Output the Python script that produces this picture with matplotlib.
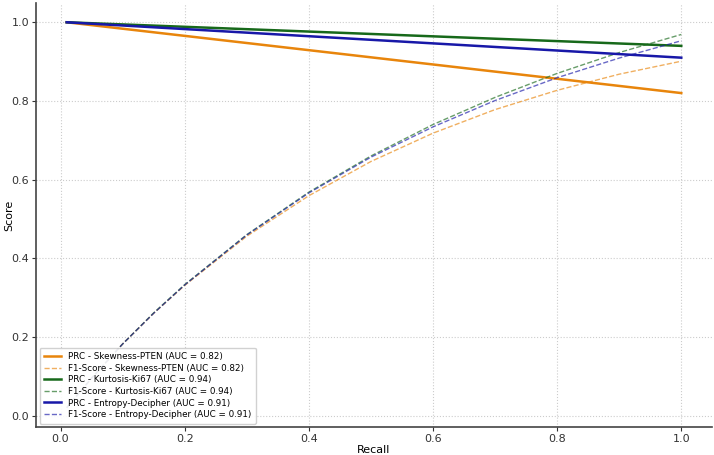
import matplotlib
matplotlib.use("Agg")
import matplotlib.pyplot as plt

# PRC lines (straight): recall endpoints and precision endpoints
prc_recall = [0.01, 1.0]
prc_skew = [1.0, 0.82]
prc_kurt = [1.0, 0.94]
prc_entr = [1.0, 0.91]

# F1-score curves
f1_recall = [0.01, 0.05, 0.1, 0.15, 0.2, 0.3, 0.4, 0.5, 0.6, 0.7, 0.8, 0.9, 1.0]
f1_skew = [0.020, 0.095, 0.182, 0.260, 0.331, 0.456, 0.559, 0.646, 0.718, 0.778, 0.827, 0.868, 0.901]
f1_kurt = [0.020, 0.095, 0.182, 0.261, 0.333, 0.460, 0.568, 0.660, 0.740, 0.809, 0.870, 0.923, 0.969]
f1_entr = [0.020, 0.095, 0.182, 0.260, 0.332, 0.459, 0.566, 0.657, 0.734, 0.801, 0.859, 0.909, 0.953]

names = ["Skewness-PTEN", "Kurtosis-Ki67", "Entropy-Decipher"]
aucs = [0.82, 0.94, 0.91]
colors = ["#e8850c", "#17691a", "#1818a8"]

fig = plt.figure(figsize=(7.14, 4.55), dpi=100)
ax = fig.add_axes([36 / 714, 28 / 455, 676 / 714, 424 / 455])

for prc, f1, name, auc, c in zip([prc_skew, prc_kurt, prc_entr],
                                 [f1_skew, f1_kurt, f1_entr], names, aucs, colors):
    ax.plot(prc_recall, prc, color=c, lw=1.8,
            label=f"PRC - {name} (AUC = {auc:.2f})")
    ax.plot(f1_recall, f1, color=c, lw=1.0, ls="--", alpha=0.65,
            label=f"F1-Score - {name} (AUC = {auc:.2f})")

ax.set_xticks([0.0, 0.2, 0.4, 0.6, 0.8, 1.0])
ax.set_yticks([0.0, 0.2, 0.4, 0.6, 0.8, 1.0])
ax.grid(True, ls=":", color="#cccccc", lw=0.8)
ax.set_axisbelow(True)
for s in ["top", "right"]:
    ax.spines[s].set_visible(False)
for s in ["left", "bottom"]:
    ax.spines[s].set_color("#444444")
    ax.spines[s].set_linewidth(1.2)
ax.tick_params(labelsize=8, colors="#333333", length=3, pad=2)
ax.set_xlabel("Recall", fontsize=8, labelpad=1)
ax.set_ylabel("Score", fontsize=8)
ax.yaxis.set_label_coords(-22 / 676, 0.5)

leg = ax.legend(loc="lower left", fontsize=6.3, frameon=True, framealpha=0.9,
                handlelength=2.0, borderpad=0.5, labelspacing=0.3,
                borderaxespad=0.4)
leg.get_frame().set_edgecolor("#cccccc")

fig.savefig("out.png", dpi=100)
